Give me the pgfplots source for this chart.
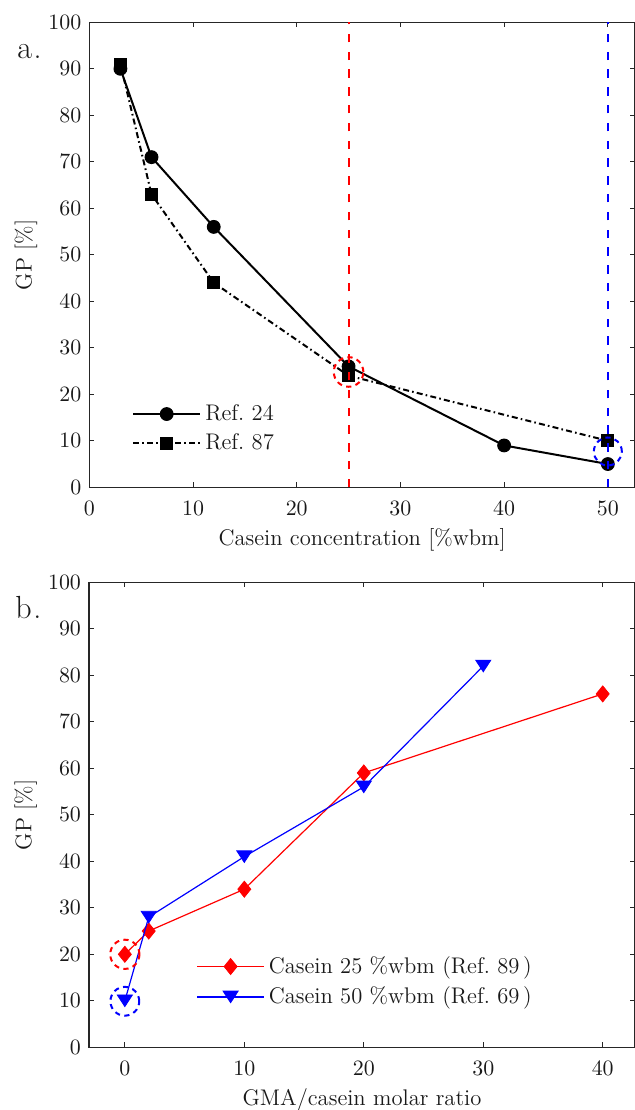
\documentclass[border=0pt]{standalone}
\usepackage{pgfplots}
\pgfplotsset{compat=1.18}
\definecolor{axgray}{rgb}{0.15,0.15,0.15}
\pgfdeclareplotmark{mdiamond*}{%
  \pgfpathmoveto{\pgfqpoint{0pt}{\pgfplotmarksize}}%
  \pgfpathlineto{\pgfqpoint{0.81\pgfplotmarksize}{0pt}}%
  \pgfpathlineto{\pgfqpoint{0pt}{-\pgfplotmarksize}}%
  \pgfpathlineto{\pgfqpoint{-0.81\pgfplotmarksize}{0pt}}%
  \pgfpathclose\pgfusepathqfillstroke}
\pgfdeclareplotmark{mtridown*}{%
  \pgfpathmoveto{\pgfqpoint{-1.3\pgfplotmarksize}{\pgfplotmarksize}}%
  \pgfpathlineto{\pgfqpoint{1.3\pgfplotmarksize}{\pgfplotmarksize}}%
  \pgfpathlineto{\pgfqpoint{0pt}{-\pgfplotmarksize}}%
  \pgfpathclose\pgfusepathqfillstroke}
\pgfplotsset{
  myax/.style={
    scale only axis,
    ymin=0, ymax=100, ytick={0,10,...,100},
    tick align=inside,
    major tick length=2.4pt,
    tick style={axgray, line width=0.5pt},
    axis line style={axgray, line width=0.6pt},
    ticklabel style={font=\fontsize{11}{13}\selectfont, text=black!90},
    xticklabel style={yshift=-3.4pt},
    yticklabel style={xshift=-0.5pt},
    label style={font=\fontsize{11.3}{13}\selectfont, text=black!90},
    ylabel={GP [\%]},
    ylabel style={at={(axis description cs:-0.116,0.5)}, anchor=center},
    xlabel style={at={(axis description cs:0.5,-0.112)}, anchor=center},
    clip mode=individual,
    legend cell align=left,
    legend style={draw=none, fill=none, font=\fontsize{11.3}{13}\selectfont,
      row sep=1.2pt, inner sep=0pt, text=black!90},
    legend image code/.code={%
      \draw[mark repeat=2,mark phase=2] plot coordinates {(0pt,0pt) (16.8pt,0pt) (33.6pt,0pt)};},
  }
}
\begin{document}
\begin{tikzpicture}
\path[use as bounding box] (0,0) rectangle (317pt,555pt);
% ---------- panel a ----------
\begin{axis}[myax,
  at={(44.65pt,311.35pt)}, anchor=south west,
  width=272.85pt, height=232.5pt,
  xmin=0, xmax=52.62, xtick={0,10,...,50},
  xlabel={Casein concentration [\%wbm]},
  legend style={at={(axis description cs:0.0777,0.126)}, anchor=west},
]
\addplot[black, line width=1pt, mark=*, mark size=3.2pt, mark options={solid, line width=0.5pt}]
  coordinates {(3,90) (6,71) (12,56) (25,26) (40,9) (50,5)};
\addlegendentry{Ref.~24}
\addplot[black, line width=1pt, dash pattern=on 3pt off 1.6pt on 0.8pt off 1.6pt, mark=square*, mark size=3.0pt, mark options={solid, line width=0.5pt}]
  coordinates {(3,91) (6,63) (12,44) (25,24) (50,10)};
\addlegendentry{Ref.~87}
\addplot[red, line width=1pt, dash pattern=on 4.2pt off 4.7pt, forget plot]
  coordinates {(25,0) (25,100)};
\addplot[blue, line width=1pt, dash pattern=on 4.2pt off 4.7pt, forget plot]
  coordinates {(50,0) (50,100)};
\addplot[red, only marks, mark=o, mark size=7.4pt, mark options={line width=1pt, dash pattern=on 2.6pt off 2.2pt}, forget plot]
  coordinates {(25,24.8)};
\addplot[blue, only marks, mark=o, mark size=7pt, mark options={line width=1pt, dash pattern=on 2.6pt off 2.2pt}, forget plot]
  coordinates {(50,7.7)};
\node[anchor=base west, inner sep=0pt, font=\fontsize{16}{18}\selectfont, text=black!90]
  at (axis description cs:-0.1325,0.9226) {a\kern0.8pt.};
\end{axis}
% ---------- panel b ----------
\begin{axis}[myax,
  at={(44.5pt,31.35pt)}, anchor=south west,
  width=273pt, height=232.5pt,
  xmin=-3, xmax=42.7, xtick={0,10,...,40},
  xlabel={GMA/casein molar ratio},
  legend style={at={(axis description cs:0.196,0.141)}, anchor=west},
]
\addplot[red, line width=0.6pt, mark=mdiamond*, mark size=4pt, mark options={solid, line width=0.4pt}]
  coordinates {(0,20) (2,25) (10,34) (20,59) (40,76)};
\addlegendentry{Casein 25 \%wbm (Ref.~89\,)}
\addplot[blue, line width=0.6pt, mark=mtridown*, mark size=2.9pt, mark options={solid, line width=0.4pt}]
  coordinates {(0,10) (2,28) (10,41) (20,56) (30,82)};
\addlegendentry{Casein 50 \%wbm (Ref.~69\,)}
\addplot[red, only marks, mark=o, mark size=7.3pt, mark options={line width=1pt, dash pattern=on 2.6pt off 2.2pt}, forget plot]
  coordinates {(0,20)};
\addplot[blue, only marks, mark=o, mark size=7.2pt, mark options={line width=1pt, dash pattern=on 2.6pt off 2.2pt}, forget plot]
  coordinates {(0,9.9)};
\node[anchor=base west, inner sep=0pt, font=\fontsize{16}{18}\selectfont, text=black!90]
  at (axis description cs:-0.1355,0.9226) {b\kern0.8pt.};
\end{axis}
\end{tikzpicture}
\end{document}
